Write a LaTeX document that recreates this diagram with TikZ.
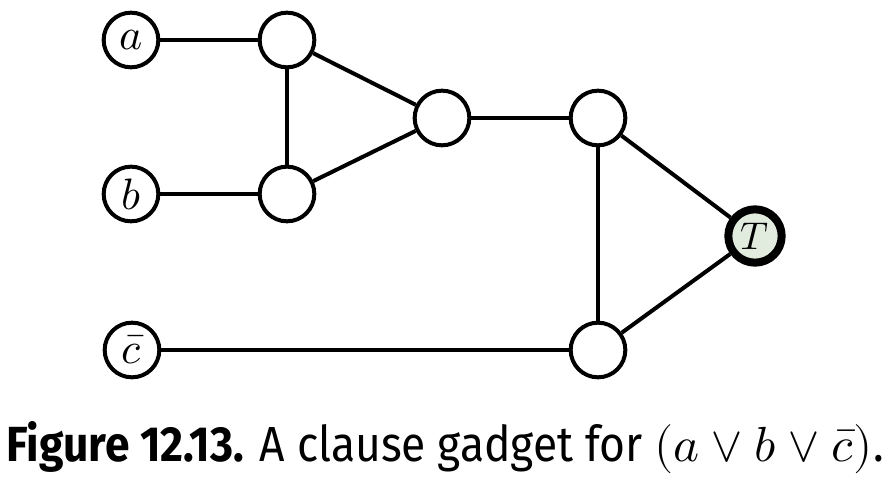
\documentclass[tikz,border=0pt]{standalone}
\usepackage{fontspec}
\setmainfont[FakeStretch=0.9]{Fira Sans}
\usepackage{unicode-math}
\setmathfont{Latin Modern Math}
\definecolor{tfill}{HTML}{E1ECDF}
\begin{document}
\begin{tikzpicture}[x=0.75pt,y=-0.75pt,
  vtx/.style={circle,draw=black,line width=3pt,fill=white,minimum size=41pt,inner sep=0pt,font=\fontsize{33}{33}\selectfont},
  tvtx/.style={vtx,line width=6pt,minimum size=40pt,fill=tfill,font=\fontsize{29}{29}\selectfont},
  edge/.style={line width=3pt}]
\useasboundingbox (0,0) rectangle (892,484);
\node[vtx] (a) at (131,40) {$a$};
\node[vtx] (b) at (131,194) {$b$};
\node[vtx] (c) at (132,350) {$\bar{c}$};
\node[vtx] (u1) at (287,40) {};
\node[vtx] (u2) at (287,194) {};
\node[vtx] (m) at (442,118) {};
\node[vtx] (p) at (598,118) {};
\node[vtx] (q) at (598,350) {};
\node[tvtx] (t) at (755,236) {$T$};
\draw[edge] (a) -- (u1);
\draw[edge] (b) -- (u2);
\draw[edge] (u1) -- (u2);
\draw[edge] (u1) -- (m);
\draw[edge] (u2) -- (m);
\draw[edge] (m) -- (p);
\draw[edge] (p) -- (q);
\draw[edge] (p) -- (t);
\draw[edge] (q) -- (t);
\draw[edge] (c) -- (q);
\node[anchor=base,font=\fontsize{37}{37}\selectfont] (cap) at (445,461) {\textbf{Figure 12.13.} A clause gadget for $(a\vee b\vee \bar{c})$.};
\end{tikzpicture}
\end{document}
